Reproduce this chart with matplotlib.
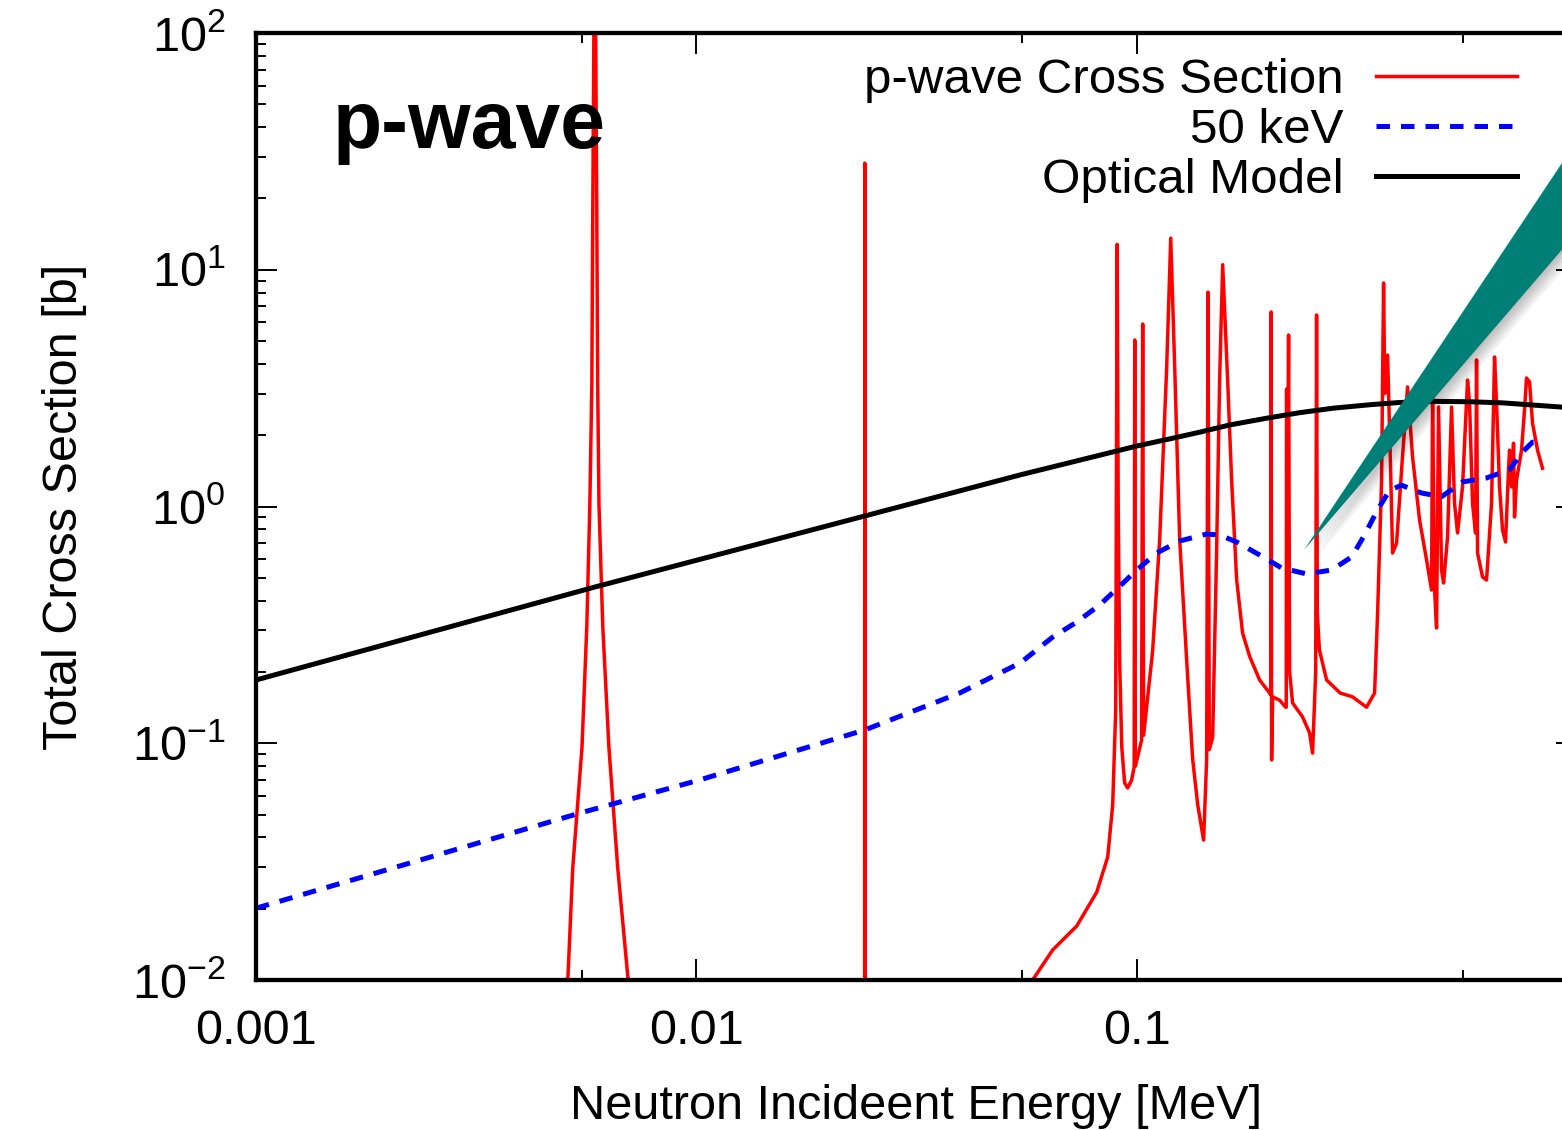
import matplotlib
matplotlib.use('Agg')
import matplotlib.pyplot as plt
from matplotlib.patches import Polygon
from matplotlib.ticker import FixedLocator, FixedFormatter, LogLocator, NullFormatter

plt.rcParams['font.family'] = ['Liberation Sans', 'DejaVu Sans']
plt.rcParams['mathtext.fontset'] = 'custom'
plt.rcParams['mathtext.rm'] = 'Liberation Sans'
plt.rcParams['mathtext.default'] = 'regular'

# p-wave resonance cross section [b] vs neutron energy [MeV]
# first resonance near 5.9 keV
res1_e = [0.0040, 0.00511, 0.00524, 0.00550, 0.00564, 0.00573, 0.00579, 0.00582, 0.00586, 0.00588,
          0.00590, 0.00594, 0.00597, 0.00601, 0.00613, 0.00633, 0.00663, 0.00699, 0.0080]
res1_s = [0.004, 0.0103, 0.0297, 0.0964, 0.313, 1.02, 3.29, 19.3, 150, 400,
          150, 19.3, 3.29, 1.02, 0.313, 0.0964, 0.0297, 0.0103, 0.004]

# narrow one at 24 keV
res2_e = [0.02411, 0.02413, 0.02415]
res2_s = [0.003, 28.2, 0.003]

# resolved region above 50 keV
res3_e = [0.0523, 0.05805, 0.06447, 0.07309, 0.08115, 0.08596, 0.08822, 0.08961, 0.0903, 0.0908,
          0.0915, 0.0925, 0.0939, 0.0954, 0.0974, 0.0987, 0.0990, 0.0993, 0.1005, 0.1026,
          0.1032, 0.1037, 0.1087, 0.1128, 0.1170, 0.1195, 0.1220, 0.1252, 0.1299, 0.1340,
          0.1376, 0.1419, 0.1442, 0.1452, 0.1462, 0.1488, 0.1519, 0.1543, 0.1568, 0.1609,
          0.1643, 0.1687, 0.1740, 0.1805, 0.1902, 0.2004, 0.2016, 0.2020, 0.2025, 0.2036,
          0.2112, 0.2179, 0.2186, 0.2190, 0.2200, 0.2213, 0.2225, 0.2260, 0.2382, 0.2470,
          0.2509, 0.2550, 0.2562, 0.2572, 0.2600, 0.2700, 0.2898, 0.3093, 0.3327, 0.3470,
          0.3525, 0.3599, 0.3637, 0.3660, 0.3714, 0.3773, 0.3812, 0.3893, 0.3996, 0.4123,
          0.4232, 0.4390, 0.4554, 0.4674, 0.4699, 0.4748, 0.4798, 0.4848, 0.4925, 0.4977,
          0.5082, 0.5189, 0.5271, 0.5354, 0.5496, 0.5642, 0.5701, 0.5791, 0.5883, 0.5914,
          0.5945, 0.6102, 0.6231, 0.6396, 0.6497, 0.6565, 0.6669, 0.6775, 0.6882, 0.6990,
          0.7027, 0.7101, 0.7176, 0.7213, 0.7289, 0.7482, 0.7600, 0.7680, 0.7802, 0.7925,
          0.8135, 0.8350]
res3_s = [0.0075, 0.0100, 0.0134, 0.0169, 0.0235, 0.0331, 0.055, 0.138, 12.8, 1.0,
          0.218, 0.0964, 0.068, 0.0647, 0.0699, 0.0794, 5.05, 0.080, 0.0875, 0.103,
          5.90, 0.108, 0.245, 0.729, 3.88, 13.6, 3.88, 0.729, 0.223, 0.0858,
          0.055, 0.039, 0.0858, 8.05, 0.094, 0.106, 0.65, 3.42, 10.5, 3.42,
          1.29, 0.489, 0.292, 0.233, 0.185, 0.163, 0.160, 6.63, 0.085, 0.157,
          0.152, 0.142, 0.142, 3.13, 0.60, 5.30, 0.20, 0.148, 0.129, 0.1105,
          0.0909, 0.20, 6.44, 0.355, 0.248, 0.185, 0.163, 0.157, 0.142, 0.163,
          0.355, 1.29, 8.79, 3.0, 4.36, 1.43, 0.636, 0.701, 1.43, 3.20,
          1.62, 0.877, 0.594, 0.444, 2.90, 0.444, 0.307, 2.63, 0.539, 0.475,
          0.743, 2.63, 1.03, 0.773, 1.21, 3.42, 2.74, 1.03, 0.773, 4.16,
          0.636, 0.504, 0.489, 1.03, 4.28, 2.74, 1.21, 0.796, 0.708, 1.43,
          1.73, 1.21, 1.85, 0.903, 1.29, 1.73, 2.56, 3.49, 3.36, 2.25,
          1.73, 1.45]

pwave_e = res1_e + res2_e + res3_e
pwave_s = res1_s + res2_s + res3_s

# averaged with 50 keV resolution
avg_e = [0.001, 0.002357, 0.005439, 0.01018, 0.02413, 0.03965, 0.0544, 0.06447, 0.07309, 0.0824,
         0.09056, 0.1000, 0.1110, 0.1252, 0.1442, 0.1543, 0.1687, 0.1902, 0.2134, 0.2432,
         0.2771, 0.3077, 0.3293, 0.3522, 0.3753, 0.3996, 0.4436, 0.4925, 0.5496, 0.6231,
         0.7027, 0.7521, 0.7925, 0.8093]
avg_s = [0.0201, 0.0321, 0.0507, 0.070, 0.1138, 0.1631, 0.2183, 0.281, 0.325, 0.384,
         0.452, 0.539, 0.636, 0.715, 0.765, 0.758, 0.708, 0.624, 0.550, 0.519,
         0.539, 0.612, 0.758, 0.966, 1.17, 1.23, 1.14, 1.10, 1.27, 1.32,
         1.43, 1.70, 1.87, 1.87]

# optical model
om_e = [0.001, 0.005883, 0.02413, 0.0544, 0.1, 0.1188, 0.139, 0.1626, 0.1973, 0.2344,
        0.2786, 0.338, 0.3954, 0.4798, 0.5701, 0.6775, 0.9222, 1.0]
om_s = [0.185, 0.457, 0.912, 1.36, 1.80, 1.93, 2.06, 2.21, 2.36, 2.49,
        2.60, 2.69, 2.75, 2.78, 2.77, 2.74, 2.63, 2.61]

x_ticks = [0.001, 0.01, 0.1, 1]
x_labels = ['0.001', '0.01', '0.1', '']
x_minor = [0.0055, 0.055, 0.55]
y_ticks = [1e-2, 1e-1, 1e0, 1e1, 1e2]
y_labels = ['$10^{-2}$', '$10^{-1}$', '$10^{0}$', '$10^{1}$', '$10^{2}$']

W, H = 1562, 1130
fig = plt.figure(figsize=(W / 100, H / 100), dpi=100)
# frame runs a little past the right edge of the canvas
ax = fig.add_axes([256 / W, 150 / H, 1321 / W, 947 / H])

ax.plot(pwave_e, pwave_s, color='#ff0000', lw=2.5, label='p-wave Cross Section')
ax.plot(avg_e, avg_s, color='#0000ff', lw=3.6, dashes=(2.7, 2.2), label='50 keV')
ax.plot(om_e, om_s, color='black', lw=3.6, label='Optical Model')

ax.set_xscale('log')
ax.set_yscale('log')
ax.set_xlim(0.001, 1)
ax.set_ylim(0.01, 100)

ax.xaxis.set_major_locator(FixedLocator(x_ticks))
ax.xaxis.set_major_formatter(FixedFormatter(x_labels))
ax.xaxis.set_minor_locator(FixedLocator(x_minor))
ax.xaxis.set_minor_formatter(NullFormatter())
ax.yaxis.set_major_locator(FixedLocator(y_ticks))
ax.yaxis.set_major_formatter(FixedFormatter(y_labels))
ax.yaxis.set_minor_locator(LogLocator(base=10, subs=range(2, 10)))
ax.yaxis.set_minor_formatter(NullFormatter())

for s in ax.spines.values():
    s.set_linewidth(3.1)
ax.tick_params(which='both', direction='in', top=True, right=True, width=1.4)
ax.tick_params(which='major', length=15, labelsize=35)
ax.tick_params(which='minor', length=7)
ax.tick_params(axis='x', which='major', pad=21)
ax.tick_params(axis='y', which='major', pad=22)

ax.set_xlabel('Neutron Incideent Energy [MeV]', fontsize=35)
ax.set_ylabel('Total Cross Section [b]', fontsize=35)
ax.xaxis.set_label_coords(0.5, -0.11)
ax.yaxis.set_label_coords(-0.128, 0.5)

ax.text(0.058, 0.879, 'p-wave', transform=ax.transAxes, fontsize=58,
        fontweight='bold', va='baseline')

ax.legend(loc='upper right', bbox_to_anchor=(1517 / W, 1 - 58 / H), bbox_transform=fig.transFigure,
          frameon=False, markerfirst=False, fontsize=35.5, handlelength=2.85,
          handletextpad=0.66, labelspacing=0.1, borderpad=0, borderaxespad=0)

# callout wedge with a soft shadow
def fig_pts(pts, dx=0, dy=0):
    return [((x + dx) / W, 1 - (y + dy) / H) for x, y in pts]

wedge = [(1304, 550), (1700, -44), (1700, 89)]
for d in range(2, 12, 2):
    fig.add_artist(Polygon(fig_pts(wedge, d, d), closed=True, transform=fig.transFigure,
                           facecolor='black', edgecolor='none', alpha=0.05, zorder=3))
fig.add_artist(Polygon(fig_pts(wedge), closed=True, transform=fig.transFigure,
                       facecolor='#007f77', edgecolor='none', zorder=4))

fig.savefig('out.png', dpi=100)
